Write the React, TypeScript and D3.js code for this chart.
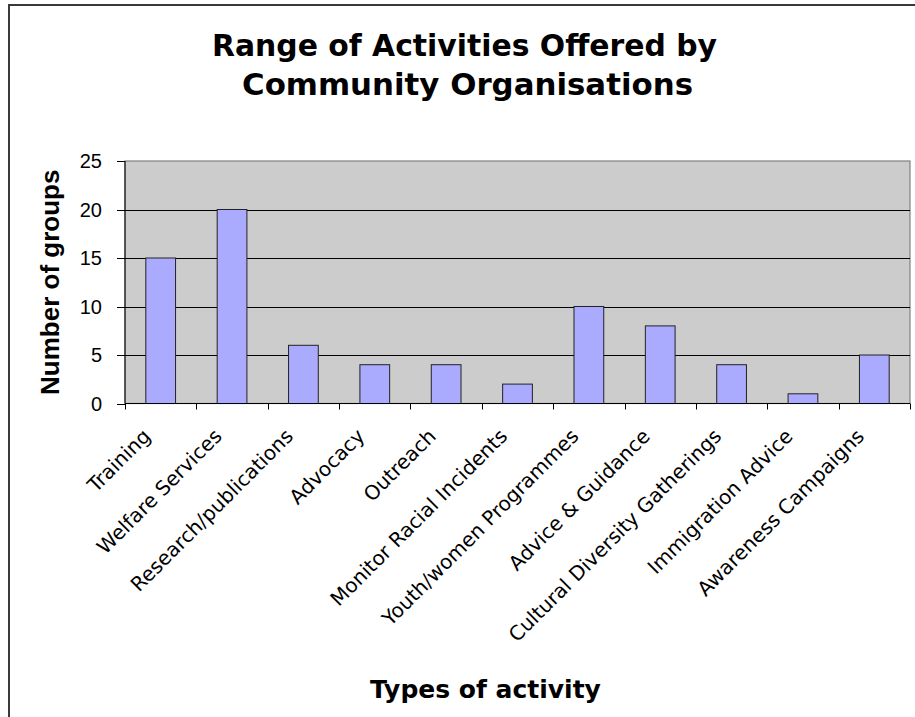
import React from "react";
import * as d3 from "d3";

const categories = [
  "Training",
  "Welfare Services",
  "Research/publications",
  "Advocacy",
  "Outreach",
  "Monitor Racial Incidents",
  "Youth/women Programmes",
  "Advice & Guidance",
  "Cultural Diversity Gatherings",
  "Immigration Advice",
  "Awareness Campaigns",
];
const values = [15, 20, 6, 4, 4, 2, 10, 8, 4, 1, 5];
const yTicks = [0, 5, 10, 15, 20, 25];
const titleLines = ["Range of Activities Offered by", "Community Organisations"];
const xTitle = "Types of activity";
const yTitle = "Number of groups";

const W = 915;
const H = 717;
const plot = { left: 125, right: 910, top: 161, bottom: 403.5 };

export default function App() {
  const x = d3
    .scaleBand<string>()
    .domain(categories)
    .range([plot.left, plot.right])
    .paddingInner(0.5833)
    .paddingOuter(0.29165);
  const y = d3.scaleLinear().domain([0, 25]).range([plot.bottom, plot.top]);
  const step = (plot.right - plot.left) / categories.length;
  const boundaries = d3.range(categories.length + 1).map((i) => plot.left + i * step);

  return (
    <svg
      width={W}
      height={H}
      style={{ position: "absolute", left: 0, top: 0, background: "#fff" }}
    >
      {/* outer chart border */}
      <rect x={9} y={5} width={1000} height={1000} fill="#fff" stroke="#3a3a3a" strokeWidth={2} />

      {/* title */}
      <g fontFamily="'DejaVu Sans', Verdana, sans-serif" fontWeight="bold" fontSize={30} fill="#000">
        <text x={464.5} y={55.5} textAnchor="middle" textLength={505} lengthAdjust="spacingAndGlyphs">
          {titleLines[0]}
        </text>
        <text x={467.5} y={95} textAnchor="middle" textLength={451} lengthAdjust="spacingAndGlyphs">
          {titleLines[1]}
        </text>
      </g>

      {/* plot area */}
      <rect
        x={plot.left}
        y={plot.top}
        width={plot.right - plot.left}
        height={plot.bottom - plot.top}
        fill="#CCCCCC"
        stroke="#808080"
        strokeWidth={1.2}
      />

      {/* gridlines */}
      {yTicks
        .filter((t) => t > 0 && t < 25)
        .map((t) => (
          <line
            key={"g" + t}
            x1={plot.left}
            x2={plot.right}
            y1={Math.round(y(t)) + 0.5}
            y2={Math.round(y(t)) + 0.5}
            stroke="#000"
            strokeWidth={1}
          />
        ))}

      {/* bars */}
      {categories.map((c, i) => (
        <rect
          key={c}
          x={x(c)!}
          y={y(values[i])}
          width={x.bandwidth()}
          height={y(0) - y(values[i])}
          fill="#AAAAFF"
          stroke="#222"
          strokeWidth={1}
        />
      ))}

      {/* y axis */}
      <line x1={plot.left} x2={plot.left} y1={plot.top} y2={plot.bottom} stroke="#000" strokeWidth={1} />
      {yTicks.map((t) => (
        <g key={"yt" + t}>
          <line x1={117} x2={plot.left} y1={Math.round(y(t)) + 0.5} y2={Math.round(y(t)) + 0.5} stroke="#000" />
          <text
            x={102}
            y={y(t)}
            dy="0.36em"
            textAnchor="end"
            fontFamily="'Liberation Sans', Arial, sans-serif"
            fontSize={20}
            fill="#000"
          >
            {t}
          </text>
        </g>
      ))}

      {/* x axis */}
      <line x1={plot.left} x2={plot.right} y1={plot.bottom} y2={plot.bottom} stroke="#000" strokeWidth={1} />
      {boundaries.map((bx, i) => (
        <line
          key={"xt" + i}
          x1={Math.round(bx) + 0.5}
          x2={Math.round(bx) + 0.5}
          y1={plot.bottom}
          y2={plot.bottom + 6}
          stroke="#000"
        />
      ))}
      {categories.map((c) => {
        const cx = x(c)! + x.bandwidth() / 2;
        return (
          <text
            key={"l" + c}
            transform={`translate(${cx - 9},${plot.bottom + 34}) rotate(-45)`}
            textAnchor="end"
            fontFamily="'DejaVu Sans', Verdana, sans-serif"
            fontSize={20}
            fill="#000"
          >
            {c}
          </text>
        );
      })}

      {/* axis titles */}
      <text
        x={370}
        y={698}
        fontFamily="'DejaVu Sans', Verdana, sans-serif"
        fontWeight="bold"
        fontSize={25}
        fill="#000"
      >
        {xTitle}
      </text>
      <text
        transform={`translate(59,${(plot.top + plot.bottom) / 2}) rotate(-90)`}
        textAnchor="middle"
        fontFamily="'Liberation Sans', Arial, sans-serif"
        fontWeight="bold"
        fontSize={26}
        fill="#000"
      >
        {yTitle}
      </text>
    </svg>
  );
}
